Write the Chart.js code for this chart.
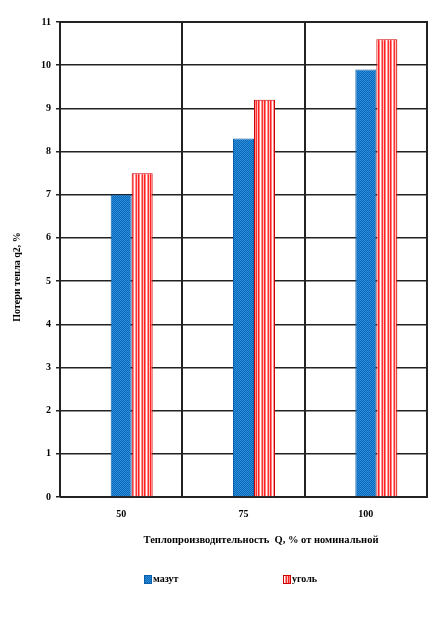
<!DOCTYPE html>
<html><head><meta charset="utf-8">
<script src="https://cdn.jsdelivr.net/npm/chart.js@4.4.1/dist/chart.umd.min.js"></script>
<style>html,body{margin:0;padding:0;background:#fff}#wrap{width:446px;height:622px}</style>
</head><body><div id="wrap"><canvas id="c" width="446" height="622"></canvas></div>
<script>
const categories = ["50", "75", "100"];
const mazut = [7.0, 8.3, 9.9];
const ugol = [7.5, 9.2, 10.6];
const yTicks = [0,1,2,3,4,5,6,7,8,9,10,11];
const seriesNames = ["мазут", "уголь"];
const yTitle = "Потери тепла q2, %";
const xTitle = "Теплопроизводительность  Q, % от номинальной";

function makePattern(draw, w, h){
  const c = document.createElement('canvas'); c.width = w; c.height = h;
  const g = c.getContext('2d'); draw(g);
  return g.createPattern(c, 'repeat');
}
const bluePat = makePattern(g=>{
  g.fillStyle='#0866bb'; g.fillRect(0,0,2,2);
  g.fillStyle='#2f8fd8'; g.fillRect(0,0,1,1); g.fillRect(1,1,1,1);
},2,2);
const redPat = makePattern(g=>{
  const cols=['#ff2020','#ff8080','#ffffff','#ff9090','#ff3030','#ffc0c0'];
  cols.forEach((c,i)=>{g.fillStyle=c; g.fillRect(i,0,1,1);});
},6,1);

const FONT = "'Liberation Serif', 'Times New Roman', serif";
new Chart(document.getElementById('c'), {
  type: 'bar',
  data: {
    labels: categories,
    datasets: [
      {label: '', data: [], backgroundColor: 'rgba(0,0,0,0)', borderWidth: 0},
      {label: seriesNames[0], data: mazut, backgroundColor: bluePat, borderColor: '#0a5fa8', borderWidth: 1},
      {label: seriesNames[1], data: ugol, backgroundColor: redPat, borderColor: '#d00000', borderWidth: 1}
    ]
  },
  options: {
    responsive: false, animation: false,
    layout: {padding: {left: 36, right: 19, top: 22, bottom: 91}},
    datasets: {bar: {categoryPercentage: 0.515, barPercentage: 1}},
    plugins: {legend: {display: false}, tooltip: {enabled: false}},
    scales: {
      x: {
        grid: {color: '#222', lineWidth: 2, drawTicks: false, offset: true},
        border: {color: '#222', width: 1},
        ticks: {color: '#000', padding: 11, font: {family: FONT, size: 10, weight: 'bold'}}
      },
      y: {
        min: 0, max: 11,
        afterBuildTicks: s => { s.ticks = yTicks.map(v => ({value: v})); },
        grid: {color: '#222', lineWidth: 1.5, tickLength: 4},
        border: {color: '#222', width: 1},
        ticks: {color: '#000', padding: 5, font: {family: FONT, size: 10, weight: 'bold'}}
      }
    }
  },
  plugins: [{
    id: 'extras',
    afterDraw(chart){
      const {ctx, chartArea: a} = chart;
      ctx.save(); ctx.strokeStyle='#222'; ctx.lineWidth=2;
      ctx.beginPath(); ctx.moveTo(a.left, a.top); ctx.lineTo(a.right, a.top); ctx.lineTo(a.right, a.bottom); ctx.stroke();
      ctx.fillStyle='#000';
      ctx.textAlign='center'; ctx.textBaseline='middle';
      // x axis title
      ctx.font = "bold 10.5px " + FONT;
      ctx.fillText(xTitle, 261, 540);
      // y axis title
      ctx.font = "bold 10px " + FONT;
      ctx.translate(17, 277); ctx.rotate(-Math.PI/2); ctx.fillText(yTitle, 0, 0);
      ctx.restore();
      // legend
      ctx.save();
      const items = [{ds: chart.data.datasets[1], x: 144}, {ds: chart.data.datasets[2], x: 283}];
      ctx.font = "bold 10px " + FONT; ctx.textBaseline='middle'; ctx.textAlign='left';
      items.forEach(it=>{
        ctx.fillStyle = it.ds.backgroundColor; ctx.fillRect(it.x, 575, 8, 9);
        ctx.strokeStyle = it.ds.borderColor; ctx.lineWidth=1; ctx.strokeRect(it.x+0.5, 575.5, 7, 8);
        ctx.fillStyle='#000'; ctx.fillText(it.ds.label, it.x+9, 579);
      });
      ctx.restore();
    }
  }]
});
</script></body></html>
